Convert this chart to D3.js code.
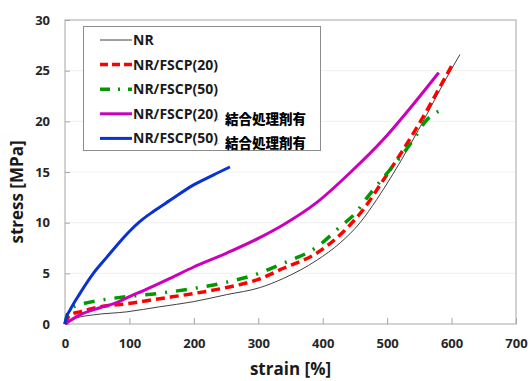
<!DOCTYPE html>
<html>
<head>
<meta charset="utf-8">
<script src="https://cdn.jsdelivr.net/npm/d3@7"></script>
<style>
body { margin: 0; background: #fff; }
text { font-family: "Open Sans", "DejaVu Sans", sans-serif; }
</style>
</head>
<body>
<div id="chart"></div>
<script>
// series data (strain %, stress MPa)
var nrStrain = [0, 18, 44, 96, 147, 199, 251, 303, 339, 391, 427, 458, 484, 509, 535, 561, 587, 613];
var nrStress = [0, 0.6, 0.9, 1.2, 1.7, 2.2, 2.9, 3.6, 4.5, 6.3, 8.0, 10.0, 12.3, 14.8, 17.6, 20.6, 23.7, 26.6];

var f20Strain = [0, 8, 23, 54, 96, 147, 199, 251, 300, 339, 391, 432, 463, 494, 525, 561, 582, 603];
var f20Stress = [0, 0.9, 1.2, 1.7, 2.0, 2.5, 3.0, 3.6, 4.4, 5.5, 7.0, 9.1, 11.3, 14.2, 17.2, 21.0, 23.4, 25.8];

var f50Strain = [0, 5, 13, 28, 60, 96, 142, 199, 256, 292, 339, 391, 427, 453, 468, 504, 541, 561, 580];
var f50Stress = [0, 1.2, 1.7, 2.0, 2.4, 2.7, 3.0, 3.5, 4.2, 4.8, 6.0, 7.6, 9.6, 11.1, 12.4, 15.2, 18.2, 20.1, 21.0];

var f20cStrain = [0, 23, 54, 80, 100, 122, 163, 199, 251, 303, 339, 391, 442, 494, 546, 580];
var f20cStress = [0, 0.9, 1.6, 2.1, 2.7, 3.3, 4.5, 5.6, 7.0, 8.55, 9.8, 12.0, 14.9, 18.2, 22.1, 24.8];

var f50cStrain = [0, 2, 8, 23, 44, 65, 85, 101, 116, 137, 163, 199, 230, 256];
var f50cStress = [0, 0.6, 1.4, 3.0, 5.0, 6.6, 8.1, 9.2, 10.1, 11.1, 12.2, 13.7, 14.7, 15.5];

var seriesNames = ["NR", "NR/FSCP(20)", "NR/FSCP(50)", "NR/FSCP(20)", "NR/FSCP(50)"];
var seriesNotes = ["", "", "", "結合処理剤有", "結合処理剤有"];
var xTicks = [0, 100, 200, 300, 400, 500, 600, 700];
var yTicks = [0, 5, 10, 15, 20, 25, 30];

var width = 530, height = 381;
var margin = { top: 20, right: 14, bottom: 57, left: 65 };
var w = width - margin.left - margin.right,
    h = height - margin.top - margin.bottom;

var styles = [
    { color: "#404040", width: 1, dash: null },
    { color: "#ff0000", width: 3.5, dash: "9,5" },
    { color: "#009900", width: 3.5, dash: "11,9,2,9" },
    { color: "#cc00bb", width: 3, dash: null },
    { color: "#0a32d0", width: 3, dash: null }
];

var allStrain = [nrStrain, f20Strain, f50Strain, f20cStrain, f50cStrain];
var allStress = [nrStress, f20Stress, f50Stress, f20cStress, f50cStress];

var series = allStrain.map(function (xs, i) {
    return xs.map(function (x, j) { return [x, allStress[i][j]]; });
});

var svg = d3.select("#chart").append("svg")
    .attr("width", width)
    .attr("height", height);

var g = svg.append("g")
    .attr("transform", "translate(" + margin.left + "," + margin.top + ")");

var xScale = d3.scaleLinear().domain([0, 700]).range([0, w]);
var yScale = d3.scaleLinear().domain([0, 30]).range([h, 0]);

// faint grid
g.selectAll(".grid")
    .data(yTicks.slice(1, -1))
    .enter()
    .append("line")
    .attr("x1", 0)
    .attr("x2", w)
    .attr("y1", function (d) { return yScale(d); })
    .attr("y2", function (d) { return yScale(d); })
    .attr("stroke", "#f0f0f0")
    .attr("stroke-width", 1);

// axes with inward ticks
var xAxis = g.append("g")
    .attr("transform", "translate(0," + h + ")")
    .call(d3.axisBottom(xScale).tickValues(xTicks).tickSizeInner(-6).tickSizeOuter(0).tickPadding(15));
var yAxis = g.append("g")
    .call(d3.axisLeft(yScale).tickValues(yTicks).tickSizeInner(-5).tickSizeOuter(0).tickPadding(15));

[xAxis, yAxis].forEach(function (ax) {
    ax.select(".domain").remove();
    ax.selectAll("line").attr("stroke", "#a6a6a6");
    ax.selectAll("text")
        .style("font-family", "'Open Sans', sans-serif")
        .style("font-size", "13px")
        .style("font-weight", "bold")
        .attr("fill", "#262626");
});

// plot frame
g.append("rect")
    .attr("x", 0)
    .attr("y", 0)
    .attr("width", w)
    .attr("height", h)
    .attr("fill", "none")
    .attr("stroke", "#a6a6a6")
    .attr("stroke-width", 1);

var line = d3.line()
    .x(function (d) { return xScale(d[0]); })
    .y(function (d) { return yScale(d[1]); })
    .curve(d3.curveMonotoneX);

g.selectAll(".curve")
    .data(series)
    .enter()
    .append("path")
    .attr("d", line)
    .attr("fill", "none")
    .attr("stroke", function (d, i) { return styles[i].color; })
    .attr("stroke-width", function (d, i) { return styles[i].width; })
    .attr("stroke-dasharray", function (d, i) { return styles[i].dash; });

// axis titles
svg.append("text")
    .attr("x", margin.left + xScale(350))
    .attr("y", 375)
    .attr("text-anchor", "middle")
    .style("font-size", "17px")
    .style("font-weight", "bold")
    .attr("fill", "#1a1a1a")
    .text("strain [%]");

svg.append("text")
    .attr("transform", "translate(23," + (margin.top + yScale(15) + 20) + ") rotate(-90)")
    .attr("text-anchor", "middle")
    .style("font-size", "17px")
    .style("font-weight", "bold")
    .attr("fill", "#1a1a1a")
    .text("stress [MPa]");

// legend
var legend = svg.append("g").attr("transform", "translate(83,26)");
legend.append("rect")
    .attr("x", 0.5)
    .attr("y", 0.5)
    .attr("width", 237)
    .attr("height", 124)
    .attr("fill", "#fff")
    .attr("stroke", "#8c8c8c")
    .attr("stroke-width", 1);

var items = legend.selectAll(".item")
    .data(seriesNames)
    .enter()
    .append("g")
    .attr("transform", function (d, i) { return "translate(0," + (14 + i * 24.6) + ")"; });

items.append("line")
    .attr("x1", 17)
    .attr("x2", 49)
    .attr("y1", 0)
    .attr("y2", 0)
    .attr("stroke", function (d, i) { return styles[i].color; })
    .attr("stroke-width", function (d, i) { return styles[i].width; })
    .attr("stroke-dasharray", function (d, i) { return i == 2 ? "10,8,2,8" : (i == 1 ? "8,4" : null); });

items.append("text")
    .attr("x", 50)
    .attr("y", 5)
    .style("font-size", "14px")
    .style("font-weight", "bold")
    .attr("fill", "#1a1a1a")
    .text(function (d) { return d; });

items.filter(function (d, i) { return seriesNotes[i] != ""; })
    .append("text")
    .attr("x", 134)
    .attr("y", 8)
    .style("font-size", "8px")
    .attr("fill", "#888")
    .text("·");

items.filter(function (d, i) { return seriesNotes[i] != ""; })
    .append("text")
    .attr("x", 142)
    .attr("y", 10)
    .style("font-family", "'Noto Sans CJK JP', sans-serif")
    .style("font-size", "13.5px")
    .style("font-weight", "900")
    .attr("fill", "#000")
    .text(function (d, i) { return seriesNotes[i + 3]; });
</script>
</body>
</html>
